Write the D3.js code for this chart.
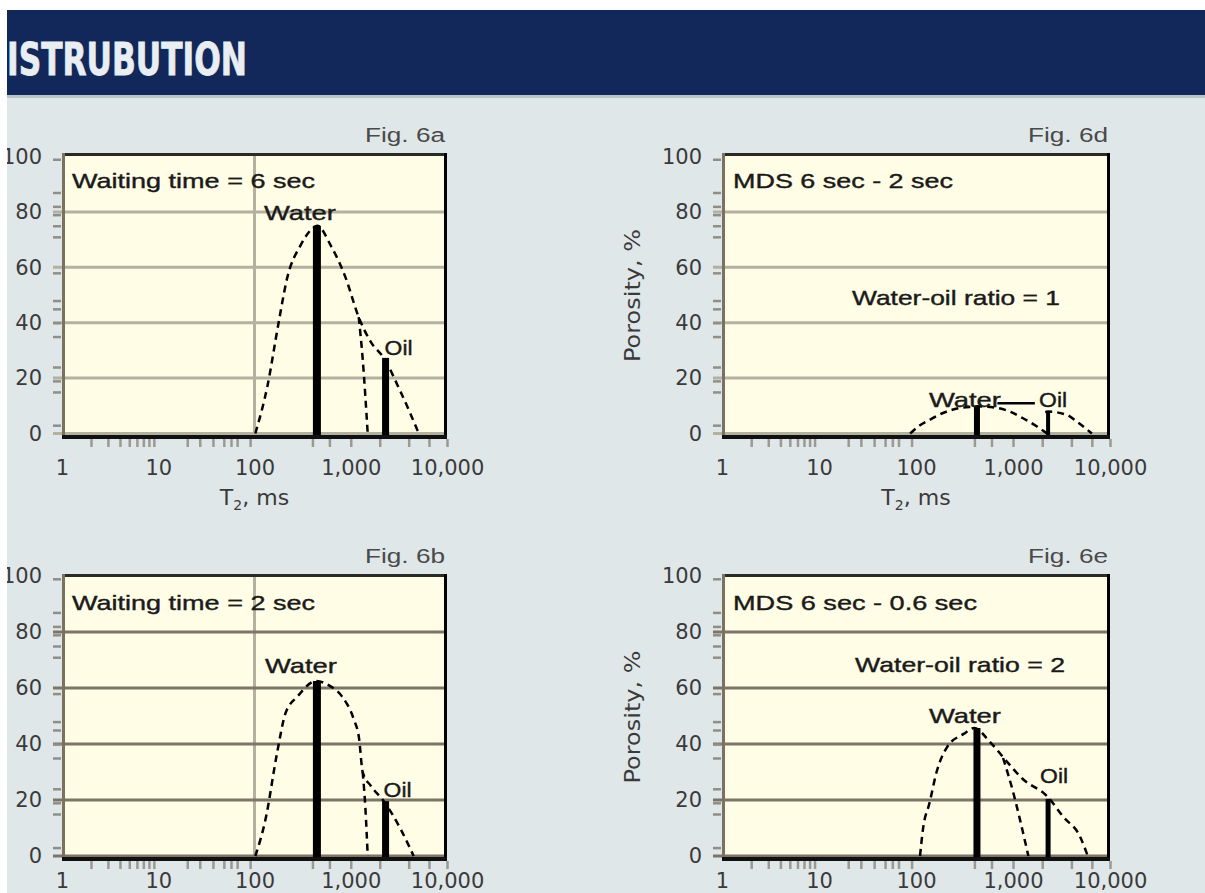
<!DOCTYPE html>
<html>
<head>
<meta charset="utf-8">
<script src="https://cdn.jsdelivr.net/npm/d3@7"></script>
<style>
  body { margin: 0; background: #e0e7e9; }
  svg { display: block; }
</style>
</head>
<body>
<script>
// ---- axis values ----
var xDomain = [1, 10000]
var xTickValues = [1, 10, 100, 1000, 10000]
var xTickLabels = ["1", "10", "100", "1,000", "10,000"]
var xMinorTicks = [2, 3, 4, 5, 6, 7, 8, 9, 20, 27, 37, 48, 57, 66, 90, 400, 600, 1000, 2000, 4000, 6500, 10000]
var yTickValues = [0, 20, 40, 60, 80, 100]
var yGridValues = [0, 20, 40, 60, 80]
var yMinorTicks = [99, 87, 82, 79, 75, 71, 58, 48, 45, 40, 35, 24, 19, 15, 3]

// ---- Fig. 6a : waiting time 6 sec ----
var aEnvT = [102, 136, 178, 218, 302, 400, 450, 617, 890, 1210, 1620, 2200, 3300, 5100]
var aEnvV = [0, 17, 40, 56, 68, 74, 75, 68, 56, 42, 33, 27.3, 15, 0]
var aWatT = [1210, 1330, 1500]
var aWatV = [42, 27, 0]
var aBarT = [445, 2300]
var aBarV = [75, 27.3]

// ---- Fig. 6b : waiting time 2 sec ----
var bEnvT = [102, 130, 172, 210, 280, 437, 590, 810, 1070, 1220, 1330, 1620, 2200, 3300, 4500]
var bEnvV = [0, 13, 37, 51, 57, 62.5, 61, 57, 49, 42, 30, 25, 19.6, 9.6, 0]
var bWatT = [1330, 1420, 1500]
var bWatV = [30, 17, 0]
var bBarT = [445, 2300]
var bBarV = [62.5, 19.6]

// ---- Fig. 6d : MDS 6 sec - 2 sec ----
var dWatT = [87, 110, 138, 190, 280, 390, 425, 690, 930, 1270, 1770, 2240]
var dWatV = [0, 3, 4.9, 7.4, 9.2, 9.7, 9.8, 9.2, 7.9, 5.5, 2.5, 0]
var dOilT = [2150, 2300, 3600, 4550, 6500]
var dOilV = [7.8, 7.9, 6.7, 4.3, 0]
var dLinkT = [690, 1680]
var dLinkV = [10.9, 10.9]
var dBarT = [425, 2300]
var dBarV = [9.6, 7.8]

// ---- Fig. 6e : MDS 6 sec - 0.6 sec ----
var eEnvT = [110, 118, 138, 163, 210, 310, 400, 580, 870, 1260, 2240, 3300, 4900, 5900]
var eEnvV = [0, 9.6, 19, 30, 39, 43.6, 45.7, 40.7, 33.6, 27.5, 21.4, 14, 7, 0]
var eWatT = [790, 1000, 1180, 1440]
var eWatV = [35, 23, 13, 0]
var eBarT = [425, 2300]
var eBarV = [45.7, 20.4]

var barNames = ["Water", "Oil"]

// layout of the four panels
var panels = [
  {key: "a", fig: "Fig. 6a", box: [62, 153, 447, 438], y0: 433.5, y100: 156.5, grid: "#b3b19f", vgrid: true, yTitle: false, xLab: 37,
   curves: [{t: aEnvT, v: aEnvV, dash: true}, {t: aWatT, v: aWatV, dash: true}],
   barT: aBarT, barV: aBarV, barW: [8, 7], labelOff: [[-17, -6], [13, -3]],
   notes: [{text: "Waiting time = 6 sec", x: 72, y: 188, len: 243}]},
  {key: "b", fig: "Fig. 6b", box: [62, 574, 447, 860], y0: 856, y100: 576, grid: "#7c7466", vgrid: true, yTitle: false, xLab: 28,
   curves: [{t: bEnvT, v: bEnvV, dash: true}, {t: bWatT, v: bWatV, dash: true}],
   barT: bBarT, barV: bBarV, barW: [8, 7], labelOff: [[-16, -8], [12, -4]],
   notes: [{text: "Waiting time = 2 sec", x: 72, y: 610, len: 243}]},
  {key: "d", fig: "Fig. 6d", box: [722, 153, 1110, 438], y0: 433.5, y100: 156.5, grid: "#b3b19f", vgrid: false, yTitle: true, xLab: 37,
   curves: [{t: dWatT, v: dWatV, dash: true}, {t: dOilT, v: dOilV, dash: true}, {t: dLinkT, v: dLinkV, dash: false}],
   barT: dBarT, barV: dBarV, barW: [6, 4], labelOff: [[-12, 0], [5, -5]],
   notes: [{text: "MDS 6 sec - 2 sec", x: 733, y: 188, len: 220},
           {text: "Water-oil ratio = 1", x: 852, y: 305, len: 208}]},
  {key: "e", fig: "Fig. 6e", box: [722, 574, 1110, 860], y0: 856, y100: 576, grid: "#7c7466", vgrid: false, yTitle: true, xLab: 28,
   curves: [{t: eEnvT, v: eEnvV, dash: true}, {t: eWatT, v: eWatV, dash: true}],
   barT: eBarT, barV: eBarV, barW: [7, 5], labelOff: [[-12, -5], [6, -16]],
   notes: [{text: "MDS 6 sec - 0.6 sec", x: 733, y: 610, len: 244},
           {text: "Water-oil ratio = 2", x: 855, y: 672, len: 210}]}
]

var svg = d3.select("body").append("svg")
    .attr("width", 1205)
    .attr("height", 893)

svg.append("rect").attr("width", 1205).attr("height", 893).attr("fill", "#e0e7e9")

// header band
svg.append("rect").attr("x", 7).attr("y", 10).attr("width", 1198).attr("height", 85).attr("fill", "#13285a")
svg.append("rect").attr("x", 7).attr("y", 95).attr("width", 1198).attr("height", 3).attr("fill", "#b9c5ca")
svg.append("text")
    .attr("x", 7).attr("y", 75)
    .attr("font-family", "'Liberation Sans Narrow', 'DejaVu Sans Condensed', sans-serif")
    .attr("font-weight", "bold")
    .attr("font-size", 45)
    .attr("textLength", 240)
    .attr("lengthAdjust", "spacingAndGlyphs")
    .attr("fill", "#e8eef1")
    .attr("stroke", "#e8eef1").attr("stroke-width", 0.8)
    .text("ISTRUBUTION")

var textFont = "'Liberation Sans', Arial, sans-serif"
var numFont = "'DejaVu Sans', sans-serif"

panels.forEach(drawPanel)

// white strip on the left edge, cuts the y labels like the scan
svg.append("rect").attr("x", 0).attr("y", 0).attr("width", 7).attr("height", 893).attr("fill", "#ffffff")
svg.append("rect").attr("x", 0).attr("y", 0).attr("width", 1205).attr("height", 10).attr("fill", "#ffffff")

function drawPanel(p) {
  var left = p.box[0], top = p.box[1], right = p.box[2], bottom = p.box[3]

  var x = d3.scaleLog().domain(xDomain).range([left, right])
  var y = d3.scaleLinear().domain([0, 100]).range([p.y0, p.y100])

  var g = svg.append("g")

  g.append("clipPath").attr("id", "clip-" + p.key)
    .append("rect").attr("x", left).attr("y", top).attr("width", right - left).attr("height", bottom - top)

  // plot background
  g.append("rect")
      .attr("x", left).attr("y", top)
      .attr("width", right - left).attr("height", bottom - top)
      .attr("fill", "#fffde6")

  if (p.vgrid) {
    g.append("line")
        .attr("x1", x(100)).attr("x2", x(100))
        .attr("y1", top).attr("y2", bottom)
        .attr("stroke", "#b3b19f").attr("stroke-width", 3)
  }

  // horizontal gridlines (they run a bit past the left frame)
  g.selectAll("line.grid").data(yGridValues).join("line")
      .attr("class", "grid")
      .attr("x1", left - 9).attr("x2", right)
      .attr("y1", d => y(d)).attr("y2", d => y(d))
      .attr("stroke", p.grid).attr("stroke-width", 3)

  // minor ticks on the y side
  var yMinor = g.append("g")
      .attr("transform", "translate(" + (left - 1) + ",0)")
      .call(d3.axisLeft(y).tickValues(yMinorTicks).tickSize(8).tickFormat(""))
  yMinor.select(".domain").remove()
  yMinor.selectAll("line").attr("stroke", "#8f8f88").attr("stroke-width", 2.5)

  // minor ticks under the x axis
  var xMinor = g.append("g")
      .attr("transform", "translate(0," + (bottom + 1) + ")")
      .call(d3.axisBottom(x).tickValues(xMinorTicks).tickSize(8).tickFormat(""))
  xMinor.select(".domain").remove()
  xMinor.selectAll("line").attr("stroke", "#9a9a92").attr("stroke-width", 2.5)

  // curves
  var line = d3.line()
      .x(d => x(d[0]))
      .y(d => y(d[1]))
      .curve(d3.curveMonotoneX)

  var cg = g.append("g").attr("clip-path", "url(#clip-" + p.key + ")")
  cg.selectAll("path.curve").data(p.curves).join("path")
      .attr("class", "curve")
      .attr("d", d => line(d3.zip(d.t, d.v)))
      .attr("fill", "none")
      .attr("stroke", "#000")
      .attr("stroke-width", 2.5)
      .attr("stroke-dasharray", d => d.dash ? "7,5" : null)

  // bars
  var bars = d3.zip(p.barT, p.barV, p.barW)
  cg.selectAll("rect.bar").data(bars).join("rect")
      .attr("class", "bar")
      .attr("x", d => x(d[0]) - d[2] / 2)
      .attr("y", d => y(d[1]))
      .attr("width", d => d[2])
      .attr("height", d => y(0) - y(d[1]) + 5)
      .attr("fill", "#000")

  // Water / Oil labels
  g.selectAll("text.blabel").data(bars).join("text")
      .attr("class", "blabel")
      .attr("x", (d, i) => x(d[0]) + p.labelOff[i][0])
      .attr("y", (d, i) => y(d[1]) + p.labelOff[i][1])
      .attr("text-anchor", "middle")
      .attr("font-family", textFont)
      .attr("font-size", 21)
      .attr("textLength", (d, i) => i == 0 ? 72 : 28)
      .attr("lengthAdjust", "spacingAndGlyphs")
      .attr("fill", "#1a1a1a")
      .attr("stroke", "#1a1a1a").attr("stroke-width", 0.4)
      .text((d, i) => barNames[i])

  // notes inside the plot
  g.selectAll("text.note").data(p.notes).join("text")
      .attr("class", "note")
      .attr("x", d => d.x).attr("y", d => d.y)
      .attr("font-family", textFont)
      .attr("font-size", 21)
      .attr("textLength", d => d.len)
      .attr("lengthAdjust", "spacingAndGlyphs")
      .attr("fill", "#1a1a1a")
      .attr("stroke", "#1a1a1a").attr("stroke-width", 0.4)
      .text(d => d.text)

  // frame
  g.append("line").attr("x1", left).attr("x2", right).attr("y1", top + 1.5).attr("y2", top + 1.5)
      .attr("stroke", "#2a2a26").attr("stroke-width", 3)
  g.append("line").attr("x1", right - 1.5).attr("x2", right - 1.5).attr("y1", top).attr("y2", bottom)
      .attr("stroke", "#000").attr("stroke-width", 3)
  g.append("line").attr("x1", left + 1.5).attr("x2", left + 1.5).attr("y1", top).attr("y2", bottom)
      .attr("stroke", "#7c7060").attr("stroke-width", 3)
  g.append("line").attr("x1", left).attr("x2", right).attr("y1", bottom - 1).attr("y2", bottom - 1)
      .attr("stroke", "#111").attr("stroke-width", 4)

  // y tick labels
  var yAx = g.append("g")
      .attr("transform", "translate(" + (left - 20) + ",0)")
      .call(d3.axisLeft(y).tickValues(yTickValues).tickSize(0).tickPadding(0))
  yAx.select(".domain").remove()
  yAx.selectAll("text")
      .attr("font-family", numFont).attr("font-size", 21).attr("fill", "#3a3a3a")

  // x tick labels
  var xAx = g.append("g")
      .attr("transform", "translate(0," + (bottom + p.xLab) + ")")
      .call(d3.axisBottom(x).tickValues(xTickValues).tickSize(0).tickPadding(0)
          .tickFormat((d, i) => xTickLabels[i]))
  xAx.select(".domain").remove()
  xAx.selectAll("text")
      .attr("y", 0).attr("dy", 0)
      .attr("font-family", numFont).attr("font-size", 21).attr("fill", "#3a3a3a")

  // x axis title T2, ms (bottom panels: below the picture edge)
  if (bottom < 600) {
    var xt = g.append("text")
        .attr("x", (left + right) / 2).attr("y", bottom + 67)
        .attr("text-anchor", "middle")
        .attr("font-family", numFont).attr("font-size", 22).attr("fill", "#3a3a3a")
    xt.append("tspan").text("T")
    xt.append("tspan").attr("font-size", 14).attr("dy", 5).text("2")
    xt.append("tspan").attr("dy", -5).text(", ms")
  }

  if (p.yTitle) {
    g.append("text")
        .attr("transform", "translate(" + (left - 82) + "," + ((top + bottom) / 2) + ") rotate(-90)")
        .attr("text-anchor", "middle")
        .attr("font-family", numFont).attr("font-size", 21).attr("fill", "#3a3a3a")
        .attr("textLength", 133).attr("lengthAdjust", "spacingAndGlyphs")
        .text("Porosity, %")
  }

  // figure label
  g.append("text")
      .attr("x", right - 2).attr("y", top - 11)
      .attr("text-anchor", "end")
      .attr("font-family", textFont).attr("font-size", 20).attr("fill", "#4a4a4a")
      .attr("textLength", 80).attr("lengthAdjust", "spacingAndGlyphs")
      .text(p.fig)
}
</script>
</body>
</html>
